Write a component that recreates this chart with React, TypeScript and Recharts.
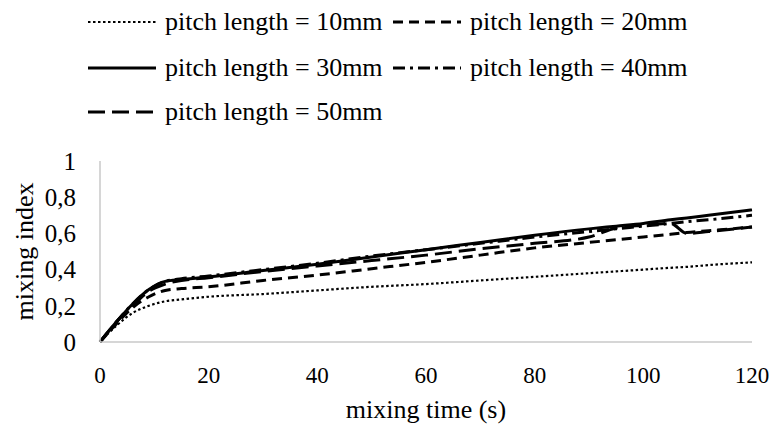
import React from "react";
import { LineChart, Line, XAxis, YAxis } from "recharts";

// mixing time (s)
const time = [0, 3, 6, 9, 12, 15, 20, 30, 40, 50, 60, 70, 80, 90, 95, 100, 105, 108, 112, 120];

// mixing index per pitch length
const pitch10 = [0, 0.09, 0.16, 0.2, 0.225, 0.235, 0.25, 0.265, 0.285, 0.305, 0.32, 0.34, 0.36, 0.38, 0.39, 0.4, 0.41, 0.415, 0.425, 0.44];
const pitch20 = [0, 0.1, 0.19, 0.25, 0.285, 0.295, 0.305, 0.34, 0.37, 0.405, 0.44, 0.48, 0.52, 0.55, 0.565, 0.58, 0.595, 0.605, 0.615, 0.635];
const pitch30 = [0, 0.11, 0.21, 0.29, 0.335, 0.345, 0.36, 0.395, 0.43, 0.47, 0.51, 0.55, 0.59, 0.625, 0.64, 0.655, 0.675, 0.685, 0.7, 0.73];
const pitch40 = [0, 0.11, 0.21, 0.29, 0.335, 0.35, 0.365, 0.4, 0.435, 0.475, 0.51, 0.545, 0.58, 0.61, 0.625, 0.64, 0.655, 0.665, 0.675, 0.7];
const pitch50 = [0, 0.11, 0.2, 0.28, 0.32, 0.34, 0.355, 0.39, 0.42, 0.45, 0.48, 0.515, 0.545, 0.58, 0.63, 0.645, 0.655, 0.6, 0.61, 0.635];

const yTicks = [0, 0.2, 0.4, 0.6, 0.8, 1];
const xTicks = [0, 20, 40, 60, 80, 100, 120];

const data = time.map((t, i) => ({
  t,
  p10: pitch10[i],
  p20: pitch20[i],
  p30: pitch30[i],
  p40: pitch40[i],
  p50: pitch50[i],
}));

const FONT = "'Liberation Serif', 'Times New Roman', serif";

const series = [
  { key: "p10", label: "pitch length = 10mm", dash: "2.5 2.5", width: 2.2 },
  { key: "p20", label: "pitch length = 20mm", dash: "10 6", width: 3 },
  { key: "p30", label: "pitch length = 30mm", dash: undefined, width: 3 },
  { key: "p40", label: "pitch length = 40mm", dash: "12 5 3 5", width: 3 },
  { key: "p50", label: "pitch length = 50mm", dash: "17 7", width: 3 },
];

// legend grid positions (relative to chart box)
const legendPos = [
  { x: 80, y: 14 },
  { x: 385, y: 14 },
  { x: 80, y: 60 },
  { x: 385, y: 60 },
  { x: 80, y: 104 },
];

function ChartLegend() {
  return (
    <>
      {series.map((s, i) => (
        <div
          key={s.key}
          style={{
            position: "absolute",
            left: legendPos[i].x,
            top: legendPos[i].y - 18,
            height: 36,
            display: "flex",
            alignItems: "center",
            fontFamily: FONT,
            fontSize: 26,
            color: "#000",
            whiteSpace: "nowrap",
          }}
        >
          <svg width={68} height={10} style={{ marginRight: 9 }}>
            <line
              x1={0}
              y1={5}
              x2={68}
              y2={5}
              stroke="#000"
              strokeWidth={s.width}
              strokeDasharray={s.dash}
            />
          </svg>
          {s.label}
        </div>
      ))}
    </>
  );
}

export default function App() {
  return (
    <div style={{ position: "relative", width: 761, height: 420, background: "#fff" }}>
      <ChartLegend />
      <LineChart
        width={761}
        height={420}
        data={data}
        margin={{ top: 153, right: 17, bottom: 0, left: 32 }}
      >
        <XAxis
          dataKey="t"
          type="number"
          domain={[0, 120]}
          ticks={xTicks}
          interval={0}
          height={86}
          tickLine={false}
          stroke="#c8c8c8"
          strokeWidth={1.5}
          tickMargin={19}
          tick={{ fill: "#000", fontSize: 23, fontFamily: FONT }}
          label={{
            value: "mixing time (s)",
            position: "insideBottom",
            offset: 10,
            fill: "#000",
            fontSize: 26,
            fontFamily: FONT,
          }}
        />
        <YAxis
          domain={[0, 1]}
          ticks={yTicks}
          interval={0}
          width={60}
          tickLine={false}
          stroke="#c8c8c8"
          strokeWidth={1.5}
          tickMargin={18}
          tickFormatter={(v: number) => String(v).replace(".", ",")}
          tick={{ fill: "#000", fontSize: 25, fontFamily: FONT }}
          label={{
            value: "mixing index",
            angle: -90,
            position: "insideLeft",
            offset: -16,
            style: { textAnchor: "middle" },
            fill: "#000",
            fontSize: 26,
            fontFamily: FONT,
          }}
        />
        {series.map((s) => (
          <Line
            key={s.key}
            dataKey={s.key}
            type="monotone"
            stroke="#000"
            strokeWidth={s.width}
            strokeDasharray={s.dash}
            dot={false}
            isAnimationActive={false}
          />
        ))}
      </LineChart>
    </div>
  );
}
